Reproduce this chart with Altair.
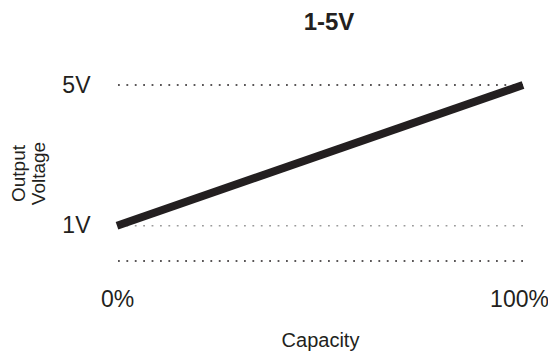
import altair as alt
import pandas as pd

capacity = [0, 100]
voltage = [1, 5]
grid_values = [0, 1, 5]
grid_colors = ["#231f20", "#9a9a9a", "#231f20"]
y_ticks = [1, 5]
x_ticks = [0, 100]

line_df = pd.DataFrame({"capacity": capacity, "voltage": voltage})
grid_df = pd.DataFrame({"v": grid_values, "c": grid_colors})

FONT = "Liberation Sans"
INK = "#231f20"

xscale = alt.Scale(domain=[0, 100], nice=False, zero=False)
yscale = alt.Scale(domain=[0, 5], nice=False, zero=False)

y_axis = alt.Axis(
    values=y_ticks,
    labelExpr="datum.value + 'V'",
    title=["Output", "Voltage"],
    grid=False,
    domain=False,
    ticks=False,
    tickSize=0,
    labelPadding=27,
    labelFontSize=23,
    labelFont=FONT,
    labelColor=INK,
    titleFont=FONT,
    titleFontSize=19,
    titleLineHeight=20,
    titleFontWeight="normal",
    titleColor=INK,
    titlePadding=13,
    labelFlush=False,
)

x_axis = alt.Axis(
    values=x_ticks,
    labelExpr="datum.value + '%'",
    title="Capacity",
    grid=False,
    domain=False,
    ticks=False,
    tickSize=0,
    labelPadding=27,
    labelFontSize=23,
    labelFont=FONT,
    labelColor=INK,
    labelOffset={"condition": {"test": "datum.value == 100", "value": -4}, "value": 0},
    titleFont=FONT,
    titleFontSize=20,
    titleFontWeight="normal",
    titleColor=INK,
    titlePadding=19,
    labelFlush=False,
)

grid = alt.Chart(grid_df).mark_rule(strokeWidth=1.6, strokeDash=[1.8, 6.6]).encode(
    y=alt.Y("v:Q", scale=yscale, axis=y_axis),
    color=alt.Color("c:N", scale=None),
)

line = alt.Chart(line_df).mark_line(color=INK, strokeWidth=8, strokeCap="butt").encode(
    x=alt.X("capacity:Q", scale=xscale, axis=x_axis),
    y=alt.Y("voltage:Q", scale=yscale, axis=y_axis),
)

chart = (
    alt.layer(grid, line)
    .properties(
        width=406,
        height=176,
        view=alt.ViewBackground(stroke="transparent", strokeWidth=0),
        autosize=alt.AutoSizeParams(type="none"),
        padding={"left": 109, "top": 77, "right": 25, "bottom": 92},
        title=alt.Title(
            "1-5V",
            font=FONT,
            fontSize=24,
            fontWeight="bold",
            color=INK,
            offset=34,
            dx=9,
        ),
    )
    .configure_view(stroke="transparent", strokeWidth=0)
    .configure_axis(grid=False, domain=False, ticks=False)
    .configure(background="white")
)

chart.save("out.html", embed_options={"renderer": "svg", "actions": False})
